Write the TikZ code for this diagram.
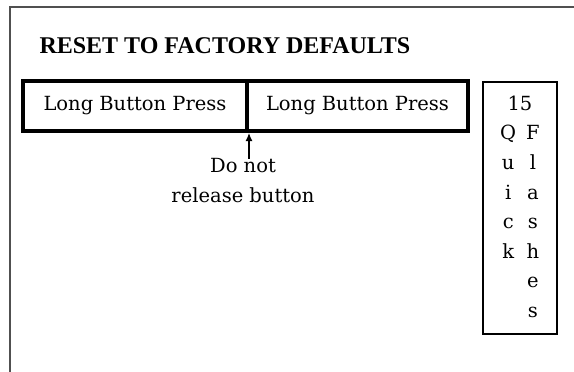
\documentclass[tikz,border=0pt]{standalone}
\usepackage{fontspec}
\setmainfont{DejaVu Serif}
\newfontfamily\headfont{Liberation Serif}
\usetikzlibrary{arrows.meta}
\definecolor{framegray}{RGB}{80,80,80}

\begin{document}
\begin{tikzpicture}[x=1pt, y=-1pt,
    pressbox/.style={draw, line width=4pt, minimum height=50pt, inner sep=0pt,
        font=\fontsize{19.5}{23}\selectfont},
    flashbox/.style={draw, line width=1.3pt, minimum width=74pt, minimum height=252pt,
        inner sep=0pt, font=\fontsize{19.5}{29.6}\selectfont}]
    \useasboundingbox (0,0) rectangle (574,372);
    % Outer frame (runs off the page)
    \draw[framegray, line width=1.5pt] (10,374) -- (10,7) -- (576,7);

    % Title
    \node[anchor=base west, font=\headfont\bfseries\fontsize{24}{28}\selectfont] (title) at (36,53) {RESET TO FACTORY DEFAULTS};

    % Buttons
    \node[pressbox, minimum width=224pt] (press1) at (135,106) {Long Button Press};
    \node[pressbox, minimum width=221pt] (press2) at (357.5,106) {Long Button Press};

    % Note and arrow
    \node[align=center, inner sep=0pt, font=\fontsize{19.5}{30}\selectfont] (hold) at (243,181) {Do not\\release button};
    \draw[-{Latex[length=8pt,width=7pt]}, line width=1.2pt] (press1.south east |- hold.north) -- (press1.south east);

    % Flash count box
    \node[flashbox] (flashes) at (520,208) {%
        \begin{tabular}{@{}c@{\hspace{10pt}}c@{}}
            \multicolumn{2}{c}{15} \\
            Q & F \\
            u & l \\
            i & a \\
            c & s \\
            k & h \\
              & e \\
              & s
        \end{tabular}};
\end{tikzpicture}
\end{document}
